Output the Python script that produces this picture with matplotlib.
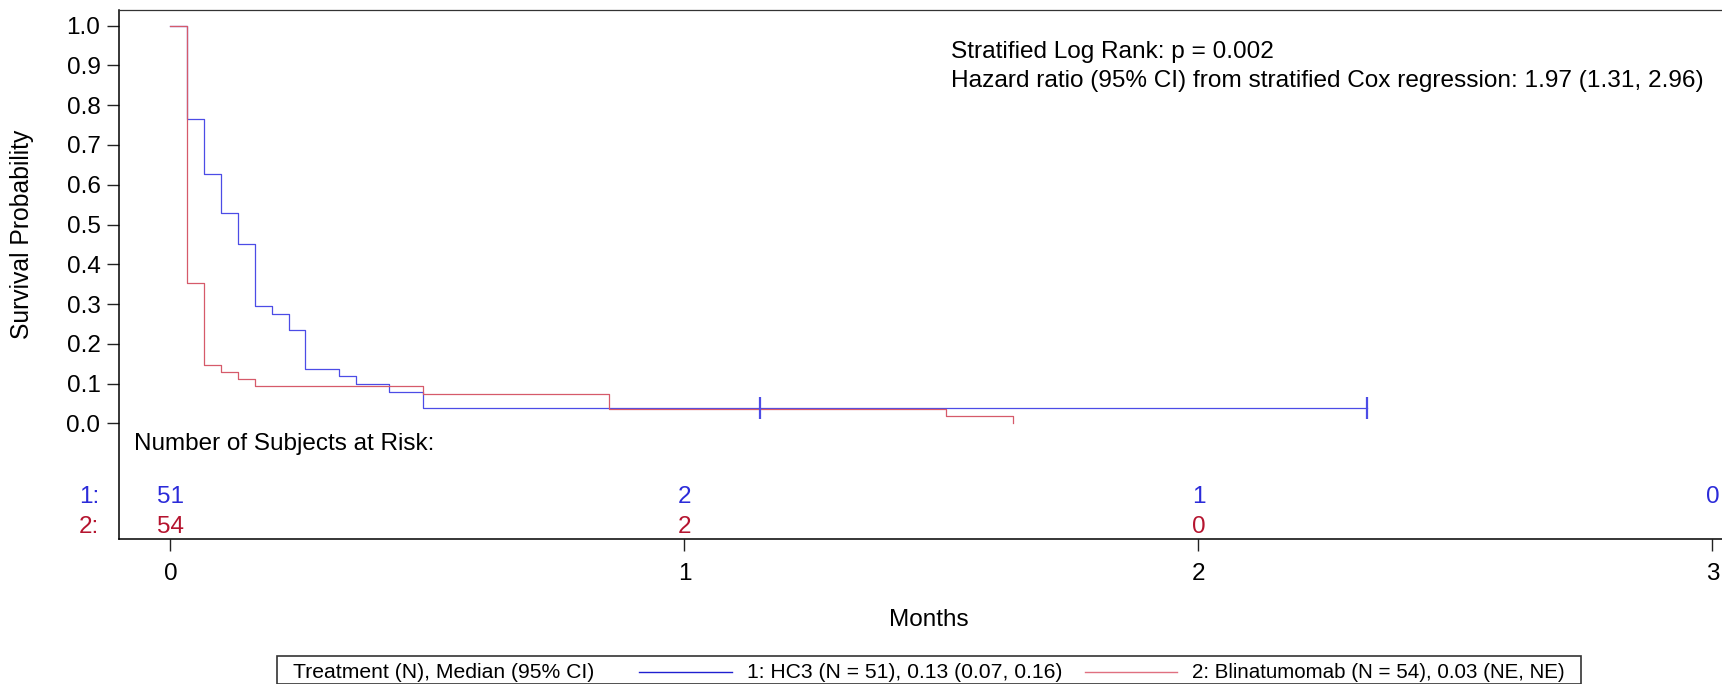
import matplotlib
matplotlib.use('Agg')
import matplotlib.pyplot as plt
from matplotlib.lines import Line2D
from matplotlib.patches import Rectangle

plt.rcParams['font.family'] = ['Liberation Sans', 'DejaVu Sans']

# Kaplan-Meier step data (months, survival probability)
hc3_times = [0, 0.033, 0.0655, 0.098, 0.131, 0.164, 0.197, 0.230, 0.262, 0.328, 0.361, 0.426, 0.491]
hc3_surv = [1.0, 0.765, 0.627, 0.529, 0.451, 0.294, 0.275, 0.235, 0.137, 0.118, 0.098, 0.078, 0.039]
hc3_end = 2.328
hc3_censor_times = [1.147, 2.328]

blin_times = [0, 0.033, 0.0655, 0.098, 0.131, 0.164, 0.491, 0.853, 1.508, 1.639]
blin_surv = [1.0, 0.352, 0.148, 0.130, 0.111, 0.093, 0.074, 0.037, 0.0185, 0.0]

# number at risk table
risk_months = [0, 1, 2, 3]
hc3_at_risk = [51, 2, 1, 0]
blin_at_risk = [54, 2, 0]

blue = '#4c4ce6'
red = '#d65a6a'
blue_txt = '#2b2bd9'
red_txt = '#b5142f'
fs = 17.5

W, H = 1722, 684
fig = plt.figure(figsize=(W / 100, H / 100), dpi=100)


def fx(px):
    return px / W


def fy(py):
    return 1 - py / H


ax = fig.add_axes([fx(119.3), fy(538.7), fx(W - 119.3), fy(10.3) - fy(538.7)])

ax.step(hc3_times + [hc3_end], hc3_surv + [hc3_surv[-1]], where='post', color=blue, lw=0.9)
ax.step(blin_times, blin_surv, where='post', color=red, lw=0.9)
ax.plot(hc3_censor_times, [hc3_surv[-1]] * len(hc3_censor_times), ls='none',
        marker='|', ms=16, mew=1.6, color=blue)

ax.set_xlim(-0.0996, 3.0187)
ax.set_ylim(-0.290, 1.0387)
ax.set_yticks([i / 10 for i in range(11)])
ax.set_yticklabels(['%.1f' % (i / 10) for i in range(11)])
ax.set_xticks(risk_months)
ax.set_xticklabels([str(m) for m in risk_months])
ax.tick_params(axis='both', direction='out', length=8.6, width=1.0, labelsize=fs, color='#222222')
ax.tick_params(axis='y', pad=5)
ax.tick_params(axis='x', pad=9)
ax.spines['right'].set_visible(False)
for s in ['left', 'bottom']:
    ax.spines[s].set_linewidth(1.1)
ax.spines['top'].set_linewidth(0.9)
ax.spines['top'].set_color('#333333')

ax.set_ylabel('Survival Probability', fontsize=17.8)
ax.yaxis.set_label_coords(-0.053, 0.577)

# at risk table
ax.text(-0.0705, -0.052, 'Number of Subjects at Risk:', fontsize=fs, ha='left', va='center')
row_y = [-0.1846, -0.260]
for m, n in zip(risk_months, hc3_at_risk):
    ax.text(m, row_y[0], str(n), color=blue_txt, fontsize=fs, ha='center', va='center')
for m, n in zip(risk_months, blin_at_risk):
    ax.text(m, row_y[1], str(n), color=red_txt, fontsize=fs, ha='center', va='center')
ax.text(-0.139, row_y[0], '1:', color=blue_txt, fontsize=fs, ha='right', va='center', clip_on=False)
ax.text(-0.139, row_y[1], '2:', color=red_txt, fontsize=fs, ha='right', va='center', clip_on=False)

# stats annotation
fig.text(fx(951), fy(51.6), 'Stratified Log Rank: p = 0.002', fontsize=17.6, va='center', ha='left')
fig.text(fx(951), fy(81.3), 'Hazard ratio (95% CI) from stratified Cox regression: 1.97 (1.31, 2.96)',
         fontsize=17.6, va='center', ha='left')

fig.text(fx(929), fy(620), 'Months', fontsize=fs, ha='center', va='center')

# legend box
fig.patches.append(Rectangle((fx(277.3), fy(683.5)), fx(1580.7 - 277.3), fy(656) - fy(683.5),
                             transform=fig.transFigure, fill=False, ec='#333333', lw=1.2))
leg_y = fy(672)
fig.text(fx(293), leg_y, 'Treatment (N), Median (95% CI)', fontsize=15.2, va='center', ha='left')
fig.lines.append(Line2D([fx(639), fx(732)], [leg_y, leg_y], transform=fig.transFigure, color='#2020d0', lw=1.0))
fig.text(fx(747), leg_y, '1: HC3 (N = 51), 0.13 (0.07, 0.16)', fontsize=15.2, va='center', ha='left')
fig.lines.append(Line2D([fx(1085), fx(1177)], [leg_y, leg_y], transform=fig.transFigure, color='#e07080', lw=1.0))
fig.text(fx(1192), leg_y, '2: Blinatumomab (N = 54), 0.03 (NE, NE)', fontsize=14.8, va='center', ha='left')

fig.savefig('out.png', dpi=100)
